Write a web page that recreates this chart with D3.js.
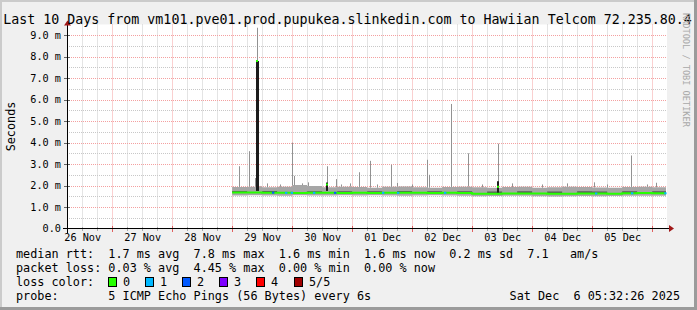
<!DOCTYPE html>
<html>
<head>
<meta charset="utf-8">
<script src="https://cdn.jsdelivr.net/npm/d3@7"></script>
<style>
  body { margin: 0; background: #f0f0f0; }
  svg { display: block; }
  text { font-family: "DejaVu Sans Mono", monospace; white-space: pre; }
</style>
</head>
<body>
<svg id="chart"></svg>
<script>
const W = 697;
const H = 310;
const X0 = 67, X1 = 667;      // plot canvas
const Y0 = 228.5, Y1 = 24.5;

const TITLE = "Last 10 Days from vm101.pve01.prod.pupukea.slinkedin.com to Hawiian Telcom 72.235.80.4";
const START = new Date("2025-11-26T05:32:26Z");
const END = new Date("2025-12-06T05:32:26Z");
const DATA_START = new Date("2025-11-29T00:00:00Z");
const BIN_HOURS = 6;

/* per 6h bin from 29 Nov 00:00, values in ms */
const medianMs = [1.68, 1.68, 1.67, 1.66, 1.65, 1.66, 1.66, 1.65, 1.66, 1.65, 1.66, 1.66, 1.66, 1.65, 1.66, 1.65,
  1.62, 1.62, 1.63, 1.63, 1.63, 1.62, 1.62, 1.63, 1.63, 1.62, 1.64, 1.65, 1.64];
const smokeLowMs = [1.54, 1.55, 1.54, 1.53, 1.55, 1.54, 1.54, 1.55, 1.54, 1.55, 1.54, 1.53, 1.54, 1.55, 1.54, 1.52,
  1.50, 1.51, 1.52, 1.53, 1.50, 1.49, 1.50, 1.51, 1.50, 1.51, 1.52, 1.53, 1.52];
const smokeHighMs = [1.93, 1.95, 1.92, 1.94, 2.02, 1.98, 1.92, 1.95, 1.93, 1.90, 1.94, 1.96, 1.92, 1.90, 1.93, 1.95,
  1.92, 1.90, 1.93, 1.94, 1.90, 1.92, 1.95, 1.93, 1.91, 1.90, 1.93, 1.95, 1.92];
const darkTopMs = [1.75, 1.68, 1.75, 1.66, 1.65, 1.74, 1.66, 1.74, 1.66, 1.74, 1.66, 1.75, 1.66, 1.74, 1.66, 1.74,
  1.62, 1.72, 1.63, 1.73, 1.63, 1.72, 1.62, 1.73, 1.72, 1.62, 1.73, 1.65, 1.73];

/* single smoke spikes: hours after 29 Nov 00:00, top in ms */
const spikeHours = [2.8, 6.8, 9.2, 10.0, 11.2, 14, 19, 24.0, 24.8, 28, 30.5, 38.0, 41.6, 43.6, 47, 50.8, 55.2, 58,
  63.6, 66.0, 72, 78.0, 78.8, 87.6, 94.4, 100, 106.4, 112, 124, 134, 144.8, 150, 159.6, 166, 169.6];
const spikeTopMs = [2.9, 3.6, 2.35, 9.35, 1.98, 2.1, 2.05, 4.0, 2.45, 2.1, 2.15, 2.9, 2.3, 2.05, 2.1, 2.62, 3.15, 2.05,
  2.97, 2.12, 2.05, 3.2, 2.5, 5.8, 3.5, 2.05, 3.95, 2.1, 2.05, 2.1, 2.15, 2.05, 3.4, 2.05, 2.13];

/* dark bursts where the median itself jumped */
const burstHours = [10.0, 38.0, 106.4];
const burstTopMs = [7.8, 2.14, 2.2];
const burstBaseMs = [1.75, 1.75, 1.6];
const burstMedianMs = [7.8, 2.05, 1.95];

/* lost pings on the median line */
const lossHours = [16.4, 21.6, 23.9, 32.8, 41.2, 60.4, 66.4, 85.2, 145.6, 160, 173.3];
const lossCount = [2, 1, 1, 1, 2, 1, 1, 1, 1, 1, 1];

const lossLabels = ["0", "1", "2", "3", "4", "5/5"];
const lossColors = ["#26ff00", "#00b8ff", "#0059ff", "#7e00ff", "#ff0000", "#a10000"];

const yTicks = [0, 1, 2, 3, 4, 5, 6, 7, 8, 9];
const legendRows = [
  "median rtt:  1.7 ms avg  7.8 ms max  1.6 ms min  1.6 ms now  0.2 ms sd  7.1   am/s",
  "packet loss: 0.03 % avg  4.45 % max  0.00 % min  0.00 % now"
];
const lossTitle = "loss color:";
const probeText = "probe:       5 ICMP Echo Pings (56 Bytes) every 6s";
const dateText = "Sat Dec  6 05:32:26 2025";
const watermark = "RRDTOOL / TOBI OETIKER";

const hoursToDate = (h) => new Date(DATA_START.getTime() + h * 3600e3);
const px = (v) => Math.round(v) + 0.5;

const svg = d3.select("#chart").attr("width", W).attr("height", H);

/* background and frame */
svg.append("rect").attr("width", W).attr("height", H).attr("fill", "#f0f0f0");
svg.append("path").attr("d", `M0,0H${W}V2H2V${H}H0Z`).attr("fill", "#cbcbcb");
svg.append("path").attr("d", `M${W},${H}H0V${H - 3}H${W - 3}V0H${W}Z`).attr("fill", "#9b9b9b");

const x = d3.scaleUtc().domain([START, END]).range([X0 - 1, X1 - 1]);
const y = d3.scaleLinear().domain([0, 9.5]).range([Y0, Y1]);

svg.append("rect")
  .attr("x", X0).attr("y", Y1)
  .attr("width", X1 - X0).attr("height", Y0 - Y1 + 0.5)
  .attr("fill", "#fff");

/* grid */
const grid = svg.append("g").attr("fill", "none").attr("stroke-width", 1).attr("stroke-dasharray", "1,1");
const majorX = d3.utcDay.range(START, END);
const minorX = d3.utcHour.every(6).range(START, END).filter((d) => d.getUTCHours() !== 0);
grid.selectAll(".vmin").data(minorX).join("line")
  .attr("x1", (d) => px(x(d))).attr("x2", (d) => px(x(d)))
  .attr("y1", Y1).attr("y2", Y0)
  .attr("stroke", "#c8c8c8");
const minorY = d3.range(0.5, 9.5, 1);
grid.selectAll(".hmin").data(minorY).join("line")
  .attr("x1", X0).attr("x2", X1)
  .attr("y1", (d) => px(y(d))).attr("y2", (d) => px(y(d)))
  .attr("stroke", "#c8c8c8");
grid.selectAll(".vmaj").data(majorX).join("line")
  .attr("x1", (d) => px(x(d))).attr("x2", (d) => px(x(d)))
  .attr("y1", Y1).attr("y2", Y0)
  .attr("stroke", "#f4a0a0");
grid.selectAll(".hmaj").data(yTicks.slice(1)).join("line")
  .attr("x1", X0).attr("x2", X1)
  .attr("y1", (d) => px(y(d))).attr("y2", (d) => px(y(d)))
  .attr("stroke", "#f4a0a0");

/* binned series */
const bins = medianMs.map((m, i) => ({
  t: hoursToDate(i * BIN_HOURS),
  med: m,
  lo: smokeLowMs[i],
  hi: smokeHighMs[i],
  dark: darkTopMs[i]
}));
bins.push(Object.assign({}, bins[bins.length - 1], { t: END }));

const smoke = d3.area().curve(d3.curveStepAfter)
  .x((d) => x(d.t)).y0((d) => y(d.lo)).y1((d) => y(d.hi));
svg.append("path").datum(bins).attr("d", smoke).attr("fill", "#a6a6a6");

const darkBand = d3.area().curve(d3.curveStepAfter)
  .x((d) => x(d.t)).y0((d) => y(d.med)).y1((d) => y(d.dark));
svg.append("path").datum(bins).attr("d", darkBand).attr("fill", "#5a5a5a");

const binAt = (h) => bins[Math.min(Math.floor(h / BIN_HOURS), bins.length - 2)];

/* spikes */
svg.append("g").selectAll("line")
  .data(spikeHours.map((h, i) => ({ h, top: spikeTopMs[i] })))
  .join("line")
  .attr("x1", (d) => px(x(hoursToDate(d.h)))).attr("x2", (d) => px(x(hoursToDate(d.h))))
  .attr("y1", (d) => y(binAt(d.h).hi)).attr("y2", (d) => y(d.top))
  .attr("stroke", "#929292").attr("stroke-width", 1);

/* bursts */
const bursts = burstHours.map((h, i) => ({ h, top: burstTopMs[i], base: burstBaseMs[i], med: burstMedianMs[i] }));
svg.append("g").selectAll("rect").data(bursts).join("rect")
  .attr("x", (d) => Math.round(x(hoursToDate(d.h))) - 1)
  .attr("width", (d, i) => (i === 0 ? 3 : 2))
  .attr("y", (d) => y(d.top))
  .attr("height", (d) => y(d.base) - y(d.top))
  .attr("fill", "#1c1c1c");

/* median line */
const medLine = d3.line().curve(d3.curveStepAfter)
  .x((d) => x(d.t)).y((d) => y(d.med));
svg.append("path").datum(bins).attr("d", medLine)
  .attr("fill", "none").attr("stroke", lossColors[0]).attr("stroke-width", 2);

svg.append("g").selectAll("line").data(bursts).join("line")
  .attr("x1", (d) => Math.round(x(hoursToDate(d.h))) - 1)
  .attr("x2", (d) => Math.round(x(hoursToDate(d.h))) + 1)
  .attr("y1", (d) => y(d.med)).attr("y2", (d) => y(d.med))
  .attr("stroke", lossColors[0]).attr("stroke-width", 2);

/* loss marks */
svg.append("g").selectAll("line")
  .data(lossHours.map((h, i) => ({ h, n: lossCount[i] })))
  .join("line")
  .attr("x1", (d) => x(hoursToDate(d.h)) - 1.2)
  .attr("x2", (d) => x(hoursToDate(d.h)) + 1.2)
  .attr("y1", (d) => y(binAt(d.h).med)).attr("y2", (d) => y(binAt(d.h).med))
  .attr("stroke", (d) => lossColors[d.n]).attr("stroke-width", 2);

/* axes lines and ticks */
const axisG = svg.append("g").attr("shape-rendering", "crispEdges");
axisG.selectAll(".tmin").data(minorX).join("line")
  .attr("x1", (d) => px(x(d))).attr("x2", (d) => px(x(d)))
  .attr("y1", Y0 - 2).attr("y2", Y0 + 2).attr("stroke", "#aaaaaa");
axisG.selectAll(".tmaj").data(majorX).join("line")
  .attr("x1", (d) => px(x(d))).attr("x2", (d) => px(x(d)))
  .attr("y1", Y0 - 3).attr("y2", Y0 + 3).attr("stroke", "#e06060");
axisG.selectAll(".ytk").data(yTicks.slice(1)).join("line")
  .attr("x1", X0 - 3).attr("x2", X0 + 3)
  .attr("y1", (d) => px(y(d))).attr("y2", (d) => px(y(d))).attr("stroke", "#666");
axisG.append("line").attr("x1", X0 - 4).attr("x2", X1 + 2).attr("y1", Y0).attr("y2", Y0).attr("stroke", "#000");
axisG.append("line").attr("x1", X0 + 0.5).attr("x2", X0 + 0.5).attr("y1", Y0 + 4).attr("y2", Y1 - 2).attr("stroke", "#000");

svg.append("path").attr("d", `M${X1 + 7},${Y0}L${X1 + 2},${Y0 - 3.5}L${X1 + 2},${Y0 + 3.5}Z`).attr("fill", "#a01818");
svg.append("path").attr("d", `M${X0 + 0.5},${Y1 - 4}L${X0 - 3},${Y1 + 1}L${X0 + 4},${Y1 + 1}Z`).attr("fill", "#a01818");

/* tick labels via d3 axes */
const noons = d3.utcDay.range(d3.utcDay.floor(START), END)
  .map((d) => d3.utcHour.offset(d, 12))
  .filter((d) => d >= START && d <= END);
const xAxis = svg.append("g").attr("transform", `translate(0,${Y0})`)
  .call(d3.axisBottom(x).tickValues(noons).tickSize(0).tickPadding(5).tickFormat(d3.utcFormat("%d %b")));
const yAxis = svg.append("g").attr("transform", `translate(${X0},0)`)
  .call(d3.axisLeft(y).tickValues(yTicks).tickSize(0).tickPadding(6)
    .tickFormat((d) => (d === 0 ? "0.0" : d.toFixed(1) + " m")));
[xAxis, yAxis].forEach((a) => {
  a.select(".domain").remove();
  a.selectAll("text").attr("font-family", "DejaVu Sans Mono").attr("font-size", 10.2).attr("fill", "#000");
});

/* titles */
svg.append("text").attr("x", 347.5).attr("y", 23.5).attr("text-anchor", "middle")
  .attr("font-size", 13.3).attr("fill", "#000").text(TITLE);
svg.append("text").attr("transform", `translate(14.5,${(Y0 + Y1) / 2}) rotate(-90)`)
  .attr("text-anchor", "middle").attr("font-size", 11.8).attr("fill", "#000").text("Seconds");
svg.append("text").attr("transform", "translate(683,13) rotate(90)")
  .attr("font-size", 8.6).attr("fill", "#a8a8a8").text(watermark);

/* legend */
const leg = svg.append("g").attr("font-size", 11.8).attr("fill", "#000");
legendRows.forEach((row, i) => {
  leg.append("text").attr("x", 16).attr("y", 258 + i * 14).attr("xml:space", "preserve").text(row);
});
leg.append("text").attr("x", 16).attr("y", 286).text(lossTitle);
lossLabels.forEach((lab, i) => {
  const sx = Math.round(108 + i * 37.1);
  leg.append("rect").attr("x", sx + 0.5).attr("y", 277.5).attr("width", 8).attr("height", 9)
    .attr("fill", lossColors[i]).attr("stroke", "#000");
  leg.append("text").attr("x", sx + 15).attr("y", 286).text(lab);
});
leg.append("text").attr("x", 16).attr("y", 300).attr("xml:space", "preserve").text(probeText);
leg.append("text").attr("x", 680).attr("y", 300).attr("text-anchor", "end")
  .attr("xml:space", "preserve").text(dateText);
</script>
</body>
</html>
